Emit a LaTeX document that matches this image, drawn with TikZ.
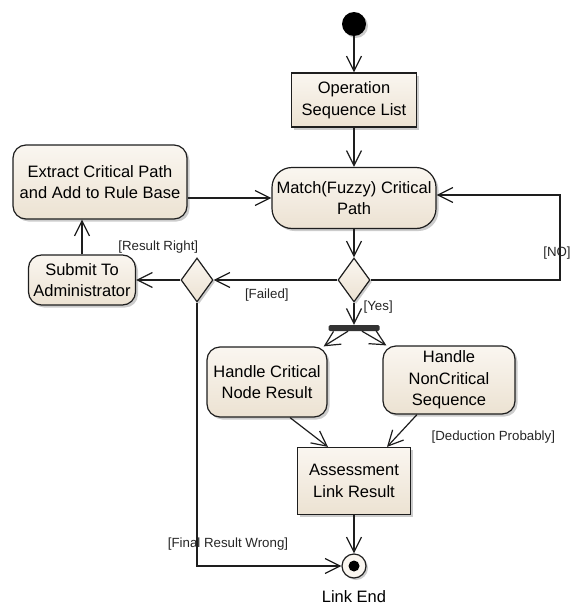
\documentclass[tikz,border=0pt]{standalone}
\usepackage{fontspec}
\setmainfont{Liberation Sans}
\usepackage{tikz}
\usetikzlibrary{arrows.meta,shapes.geometric,shadows}
\usetikzlibrary{positioning}
\definecolor{actfill}{RGB}{236,226,210}
\definecolor{actlite}{RGB}{250,246,240}
\definecolor{actline}{RGB}{30,30,30}
\tikzset{
    action/.style={
           rectangle, rounded corners=13pt,
           draw=actline, line width=1.2pt,
           top color=actlite, bottom color=actfill,
           drop shadow={shadow xshift=2.5pt,shadow yshift=-2.5pt,fill=black!40},
           align=center, inner sep=0pt,
           font=\fontsize{16.5}{21.5}\selectfont,
           },
}
\tikzset{
    object/.style={
           action, rounded corners=0pt,
           },
}
\tikzset{
    decision/.style={
           diamond, draw=actline, line width=1.2pt,
           top color=actlite, bottom color=actfill,
           drop shadow={shadow xshift=2pt,shadow yshift=-2pt,fill=black!40},
           minimum width=32pt, minimum height=44pt, inner sep=0pt,
           },
}
\tikzset{
    startnode/.style={
           circle, fill=black, minimum size=24pt, inner sep=0pt,
           drop shadow={shadow xshift=2pt,shadow yshift=-2pt,fill=black!40},
           },
    endnode/.style={
           circle, draw=actline, line width=1.2pt, fill=actlite,
           minimum size=24pt, inner sep=0pt,
           drop shadow={shadow xshift=2pt,shadow yshift=-2pt,fill=black!40},
           path picture={\fill[black] (path picture bounding box.center) circle (5.5pt);},
           },
    forkbar/.style={
           rectangle, rounded corners=1.5pt, fill=black!80,
           minimum width=51pt, minimum height=6pt, inner sep=0pt,
           },
    flow/.style={
           draw=actline, line width=1.2pt,
           -{Straight Barb[length=15pt,width=15pt,line width=1.2pt]},
           },
    guard/.style={
           text=black!85, inner sep=1pt,
           font=\fontsize{13.3}{16}\selectfont,
           },
}

\begin{document}
\begin{tikzpicture}[x=1pt,y=1pt]
\useasboundingbox (0,0) rectangle (571,-605);
\node[startnode](start) at (354,-24){};
\node[object,minimum width=125pt,minimum height=54pt,below of = start,node distance=76pt](ops){Operation\\Sequence List};
\node[action,rounded corners=20pt,minimum width=164pt,minimum height=61pt,below of = ops,node distance=98pt](match){Match(Fuzzy) Critical\\Path};
\node[decision,below of = match,node distance=82pt](dec1){};
\node[forkbar,below of = dec1,node distance=48pt](fork){};
\node[action,minimum width=120pt,minimum height=70pt,below of = fork,node distance=54pt,xshift=-87pt](crit){Handle Critical\\Node Result};
\node[action,minimum width=132pt,minimum height=68pt,below of = fork,node distance=52pt,xshift=95pt](noncrit){Handle\\NonCritical\\Sequence};
\node[object,minimum width=113pt,minimum height=67pt,below of = fork,node distance=153pt](assess){Assessment\\Link Result};
\node[endnode,below of = assess,node distance=85pt](final){};
\node[font=\fontsize{16.5}{20}\selectfont,below of = final,node distance=31pt](linkend){Link End};
\node[decision,left of = dec1,node distance=157pt](dec2){};
\node[action,minimum width=107pt,minimum height=50pt,left of = dec2,node distance=115pt](submit){Submit To\\Administrator};
\node[action,minimum width=174pt,minimum height=74pt,above of = submit,node distance=98pt,xshift=18pt](extract){Extract Critical Path\\and Add to Rule Base};
\coordinate[right of = dec1,node distance=206pt](noturn);
\path[flow] (start) -- (ops);
\path[flow] (ops) -- (match);
\path[flow] (extract.east |- match.west) -- (match.west);
\path[flow] (match) -- (dec1);
\path[flow] (dec1.east) -- (noturn) |- ([yshift=3pt]match.east) node[guard,pos=0.16,xshift=-3pt]{[NO]};
\path[flow] (dec1.west) -- (dec2.east) node[guard,pos=0.57,below=7pt]{[Failed]};
\path[flow] (dec2.west) -- (submit.east) node[guard,midway,yshift=33pt]{[Result Right]};
\path[flow] (submit.north) -- (submit.north |- extract.south);
\path[flow] (dec1.south) -- (fork.north) node[guard,pos=0.2,right=8pt]{[Yes]};
\path[flow] ([xshift=-6pt]fork.south) -- ([xshift=-4pt]crit.north east);
\path[flow] ([xshift=8pt]fork.south) -- ([xshift=4pt]noncrit.north west);
\path[flow] ([xshift=23pt]crit.south) -- ([xshift=-26pt]assess.north);
\path[flow] ([xshift=-32pt]noncrit.south) -- ([xshift=33pt]assess.north) node[guard,pos=0.7,anchor=west,xshift=34pt]{[Deduction Probably]};
\path[flow] (assess) -- (final);
\path[flow] (dec2.south) |- (final.west) node[guard,pos=0.458,xshift=31pt]{[Final Result Wrong]};
\end{tikzpicture}
\end{document}
